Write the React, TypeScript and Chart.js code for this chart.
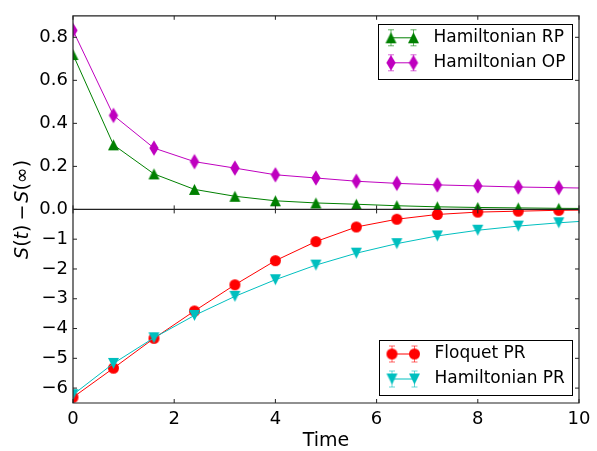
import React, { useEffect, useRef } from 'react';
import { Chart, registerables } from 'chart.js';

Chart.register(...registerables);

// ---------- data ----------
const timePoints = [0, 0.8, 1.6, 2.4, 3.2, 4.0, 4.8, 5.6, 6.4, 7.2, 8.0, 8.8, 9.6, 10.4];
const hamiltonianRP = [0.72, 0.30, 0.165, 0.093, 0.061, 0.040, 0.030, 0.024, 0.017, 0.012, 0.009, 0.007, 0.005, 0.004];
const hamiltonianOP = [0.832, 0.437, 0.285, 0.222, 0.192, 0.161, 0.146, 0.131, 0.121, 0.114, 0.109, 0.104, 0.101, 0.098];
const floquetPR = [-6.31, -5.33, -4.33, -3.41, -2.53, -1.72, -1.08, -0.59, -0.33, -0.17, -0.09, -0.06, -0.03, -0.02];
const hamiltonianPR = [-6.22, -5.17, -4.31, -3.56, -2.92, -2.36, -1.87, -1.47, -1.15, -0.89, -0.70, -0.56, -0.45, -0.36];

const xTicks = [0, 2, 4, 6, 8, 10];
const topTicks = [0, 0.2, 0.4, 0.6, 0.8];
const bottomTicks = [-6, -5, -4, -3, -2, -1];

const topLegendLabels = ['Hamiltonian RP', 'Hamiltonian OP'];
const bottomLegendLabels = ['Floquet PR', 'Hamiltonian PR'];

const GREEN = '#008000';
const MAGENTA = '#bf00bf';
const RED = '#ff0000';
const CYAN = '#00bfbf';
const FONT = '"DejaVu Sans"';

type Kind = 'circle' | 'up' | 'down' | 'diamond';

function makeMarker(kind: Kind, color: string, size: number): HTMLCanvasElement {
  const c = document.createElement('canvas');
  let w = size;
  let h = size;
  if (kind === 'diamond') {
    h = size * Math.SQRT2;
    w = h * 0.6;
  }
  c.width = Math.ceil(w) + 2;
  c.height = Math.ceil(h) + 2;
  const ctx = c.getContext('2d')!;
  const cx = c.width / 2;
  const cy = c.height / 2;
  ctx.fillStyle = color;
  ctx.beginPath();
  if (kind === 'circle') {
    ctx.arc(cx, cy, size / 2, 0, Math.PI * 2);
  } else if (kind === 'up') {
    ctx.moveTo(cx, cy - h / 2);
    ctx.lineTo(cx + w / 2, cy + h / 2);
    ctx.lineTo(cx - w / 2, cy + h / 2);
    ctx.closePath();
  } else if (kind === 'down') {
    ctx.moveTo(cx, cy + h / 2);
    ctx.lineTo(cx + w / 2, cy - h / 2);
    ctx.lineTo(cx - w / 2, cy - h / 2);
    ctx.closePath();
  } else {
    ctx.moveTo(cx, cy - h / 2);
    ctx.lineTo(cx + w / 2, cy);
    ctx.lineTo(cx, cy + h / 2);
    ctx.lineTo(cx - w / 2, cy);
    ctx.closePath();
  }
  ctx.fill();
  return c;
}

function fmtMinus(v: number): string {
  return v < 0 ? '\u2212' + String(Math.abs(v)) : String(v);
}

export default function App() {
  const ref = useRef<HTMLCanvasElement | null>(null);

  useEffect(() => {
    document.body.style.margin = '0';
    const canvas = ref.current!;
    const MS = 11;
    const mRP = makeMarker('up', GREEN, MS);
    const mOP = makeMarker('diamond', MAGENTA, MS);
    const mFQ = makeMarker('circle', RED, MS);
    const mPR = makeMarker('down', CYAN, MS);

    const toXY = (ys: number[]) => timePoints.map((t, i) => ({ x: t, y: ys[i] }));

    const mk = (label: string, ys: number[], color: string, marker: HTMLCanvasElement, yAxisID: string) => ({
      label,
      data: toXY(ys),
      borderColor: color,
      backgroundColor: color,
      borderWidth: 1,
      pointStyle: marker,
      pointRadius: 5,
      pointHoverRadius: 5,
      tension: 0,
      yAxisID,
      xAxisID: 'x',
      clip: false as any,
    });

    const panelClip = {
      id: 'panelClip',
      beforeDatasetDraw(chart: any, args: any) {
        const ys = chart.scales[args.meta.yAxisID];
        const a = chart.chartArea;
        const ctx = chart.ctx;
        ctx.save();
        ctx.beginPath();
        ctx.rect(a.left, ys.top, a.right - a.left, ys.bottom - ys.top);
        ctx.clip();
      },
      afterDatasetDraw(chart: any) {
        chart.ctx.restore();
      },
    };

    const drawLegend = (
      ctx: CanvasRenderingContext2D,
      left: number,
      top: number,
      w: number,
      h: number,
      items: { label: string; color: string; marker: HTMLCanvasElement }[]
    ) => {
      ctx.save();
      ctx.fillStyle = '#fff';
      ctx.fillRect(left, top, w, h);
      ctx.strokeStyle = '#000';
      ctx.lineWidth = 1;
      ctx.strokeRect(Math.round(left) + 0.5, Math.round(top) + 0.5, Math.round(w), Math.round(h));
      items.forEach((it, i) => {
        const y = top + 14 + i * 25;
        const x1 = left + 13.5;
        const x2 = left + 36;
        ctx.strokeStyle = it.color;
        ctx.globalAlpha = 0.6;
        ctx.lineWidth = 1;
        for (const x of [x1, x2]) {
          ctx.beginPath();
          ctx.moveTo(x, y - 8);
          ctx.lineTo(x, y + 8);
          ctx.moveTo(x - 3, y - 8);
          ctx.lineTo(x + 3, y - 8);
          ctx.moveTo(x - 3, y + 8);
          ctx.lineTo(x + 3, y + 8);
          ctx.stroke();
        }
        ctx.globalAlpha = 1;
        ctx.beginPath();
        ctx.moveTo(x1, y);
        ctx.lineTo(x2, y);
        ctx.stroke();
        for (const x of [x1, x2]) {
          ctx.drawImage(it.marker, x - it.marker.width / 2, y - it.marker.height / 2);
        }
        ctx.fillStyle = '#000';
        ctx.font = `17px ${FONT}`;
        ctx.textAlign = 'left';
        ctx.textBaseline = 'middle';
        ctx.fillText(it.label, left + 56, y);
      });
      ctx.restore();
    };

    const frame = {
      id: 'frame',
      afterDatasetsDraw(chart: any) {
        const ctx: CanvasRenderingContext2D = chart.ctx;
        const a = chart.chartArea;
        const xs = chart.scales.x;
        const yt = chart.scales.yTop;
        const yb = chart.scales.yBot;
        const L = a.left, R = a.right, T = a.top, B = a.bottom, M = yt.bottom;
        const tl = 4;
        ctx.save();
        ctx.strokeStyle = '#222';
        ctx.lineWidth = 1.2;
        ctx.beginPath();
        ctx.rect(L, T, R - L, B - T);
        ctx.moveTo(L, M);
        ctx.lineTo(R, M);
        ctx.stroke();
        ctx.lineWidth = 1;
        ctx.beginPath();
        for (const v of xTicks) {
          const px = xs.getPixelForValue(v);
          ctx.moveTo(px, T); ctx.lineTo(px, T + tl);
          ctx.moveTo(px, M - tl); ctx.lineTo(px, M + tl);
          ctx.moveTo(px, B); ctx.lineTo(px, B - tl);
        }
        for (const v of topTicks) {
          const py = yt.getPixelForValue(v);
          ctx.moveTo(L, py); ctx.lineTo(L + tl, py);
          ctx.moveTo(R, py); ctx.lineTo(R - tl, py);
        }
        for (const v of bottomTicks) {
          const py = yb.getPixelForValue(v);
          ctx.moveTo(L, py); ctx.lineTo(L + tl, py);
          ctx.moveTo(R, py); ctx.lineTo(R - tl, py);
        }
        ctx.stroke();

        // legends
        drawLegend(ctx, R - 7.5 - 194, yt.top + 8, 194, 55, [
          { label: topLegendLabels[0], color: GREEN, marker: mRP },
          { label: topLegendLabels[1], color: MAGENTA, marker: mOP },
        ]);
        drawLegend(ctx, R - 7.5 - 193, yb.bottom - 8 - 55, 193, 55, [
          { label: bottomLegendLabels[0], color: RED, marker: mFQ },
          { label: bottomLegendLabels[1], color: CYAN, marker: mPR },
        ]);

        // x title
        ctx.fillStyle = '#000';
        ctx.font = `19px ${FONT}`;
        ctx.textAlign = 'center';
        ctx.textBaseline = 'middle';
        ctx.fillText('Time', (L + R) / 2, 441.5);

        // y title (mathtext-like)
        const parts: { t: string; it: boolean; gap?: number }[] = [
          { t: 'S', it: true },
          { t: '(', it: false },
          { t: 't', it: true },
          { t: ')', it: false, gap: 4 },
          { t: '\u2212', it: false, gap: 2 },
          { t: 'S', it: true },
          { t: '(', it: false },
          { t: '\u221E', it: false },
          { t: ')', it: false },
        ];
        const fs = 19;
        let total = 0;
        const widths: number[] = [];
        for (const p of parts) {
          ctx.font = `${p.it ? 'italic ' : ''}${fs}px ${FONT}`;
          const w = ctx.measureText(p.t).width;
          widths.push(w);
          total += w + (p.gap || 0);
        }
        ctx.translate(23, M);
        ctx.rotate(-Math.PI / 2);
        ctx.textAlign = 'left';
        let cx = -total / 2;
        parts.forEach((p, i) => {
          ctx.font = `${p.it ? 'italic ' : ''}${fs}px ${FONT}`;
          ctx.fillText(p.t, cx, 0);
          cx += widths[i] + (p.gap || 0);
        });
        ctx.restore();
      },
    };

    const tickFont = { family: FONT, size: 18 };

    const chart = new Chart(canvas, {
      type: 'line',
      data: {
        datasets: [
          mk(bottomLegendLabels[1], hamiltonianPR, CYAN, mPR, 'yBot'),
          mk(bottomLegendLabels[0], floquetPR, RED, mFQ, 'yBot'),
          mk(topLegendLabels[1], hamiltonianOP, MAGENTA, mOP, 'yTop'),
          mk(topLegendLabels[0], hamiltonianRP, GREEN, mRP, 'yTop'),
        ] as any,
      },
      options: {
        responsive: false,
        animation: false,
        devicePixelRatio: 1,
        events: [],
        layout: { padding: { top: 12, right: 18, left: 0, bottom: 0 } },
        plugins: { legend: { display: false }, tooltip: { enabled: false } },
        scales: {
          x: {
            type: 'linear',
            position: 'bottom',
            min: 0,
            max: 10,
            afterBuildTicks: (s: any) => { s.ticks = xTicks.map((v) => ({ value: v })); },
            afterFit: (s: any) => { s.height = 48; },
            ticks: { font: tickFont, color: '#000', padding: 6, maxRotation: 0, autoSkip: false, callback: (v: any) => String(v) },
            grid: { display: false, drawTicks: false },
            border: { display: false },
          },
          yBot: {
            type: 'linear',
            position: 'left',
            stack: 'panels',
            stackWeight: 1,
            min: -6.5,
            max: 0,
            afterBuildTicks: (s: any) => { s.ticks = bottomTicks.map((v) => ({ value: v })); },
            afterFit: (s: any) => { s.width = 73; },
            ticks: { font: tickFont, color: '#000', padding: 5, autoSkip: false, callback: (v: any) => fmtMinus(Number(v)) },
            grid: { display: false, drawTicks: false },
            border: { display: false },
          },
          yTop: {
            type: 'linear',
            position: 'left',
            stack: 'panels',
            stackWeight: 1,
            min: 0,
            max: 0.9,
            afterBuildTicks: (s: any) => { s.ticks = topTicks.map((v) => ({ value: v })); },
            afterFit: (s: any) => { s.width = 73; },
            ticks: { font: tickFont, color: '#000', padding: 5, autoSkip: false, callback: (v: any) => Number(v).toFixed(1) },
            grid: { display: false, drawTicks: false },
            border: { display: false },
          },
        },
      } as any,
      plugins: [panelClip, frame],
    });

    return () => chart.destroy();
  }, []);

  return (
    <div style={{ width: 597, height: 451 }}>
      <canvas ref={ref} width={597} height={451} style={{ display: 'block', width: 597, height: 451 }} />
    </div>
  );
}
